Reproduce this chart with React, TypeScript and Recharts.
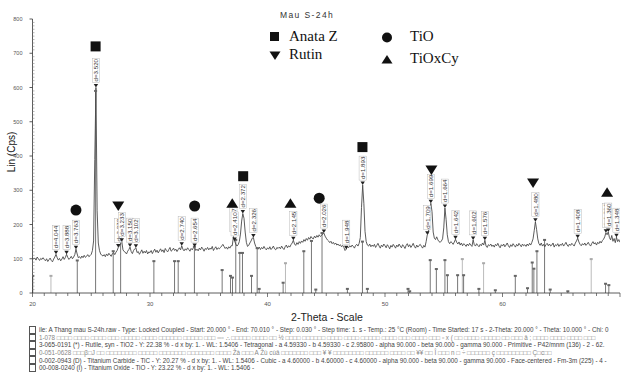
import { ComposedChart, Line, XAxis, YAxis, Scatter, ReferenceLine } from 'recharts'

// scan parameters (2-theta start / step of the resampled counts below)
const scanStart = 20
const scanStep = 0.1

// counts, one row per degree 20..69, last value is 70.0
const counts = [
  104, 99, 102, 96, 105, 100, 95, 101, 98, 103,
  98, 94, 100, 92, 97, 102, 95, 91, 99, 105,
  113, 103, 96, 101, 94, 99, 106, 98, 104, 113,
  104, 98, 102, 107, 100, 105, 112, 128, 114, 103,
  106, 101, 108, 103, 110, 104, 107, 112, 106, 109,
  113, 124, 152, 390, 600, 240, 146, 124, 114, 110,
  108, 112, 106, 114, 109, 116, 111, 107, 115, 118,
  112, 119, 124, 133, 138, 144, 150, 126, 121, 119,
  114, 122, 127, 134, 121, 115, 124, 129, 132, 118,
  121, 113, 119, 126, 116, 122, 117, 124, 114, 120,
  118, 124, 115, 122, 128, 119, 125, 117, 123, 129,
  121, 126, 118, 130, 124, 120, 127, 133, 122, 125,
  131, 124, 128, 121, 127, 132, 126, 138, 128, 123,
  129, 125, 132, 127, 122, 130, 126, 133, 134, 124,
  128, 123, 131, 126, 134, 129, 122, 130, 127, 133,
  126, 131, 128, 136, 124, 130, 135, 127, 132, 129,
  133, 137, 142, 136, 130, 134, 128, 135, 131, 138,
  138, 164, 152, 143, 137, 141, 150, 172, 210, 232,
  218, 178, 148, 136, 139, 146, 152, 160, 162, 146,
  136, 131, 128, 134, 127, 133, 129, 136, 130, 126,
  132, 128, 135, 127, 131, 137, 129, 126, 133, 130,
  134, 129, 137, 131, 127, 135, 140, 132, 138, 134,
  141, 146, 154, 143, 139, 147, 142, 150, 145, 152,
  148, 156, 151, 159, 154, 162, 157, 165, 160, 158,
  166, 161, 168, 163, 170, 165, 168, 172, 175, 166,
  160, 155, 152, 147, 151, 144, 148, 142, 146, 140,
  143, 138, 141, 135, 139, 133, 124, 128, 136, 132,
  138, 134, 140, 136, 131, 139, 142, 137, 145, 162,
  250, 315, 262, 180, 150, 140, 137, 143, 135, 140,
  136, 142, 133, 139, 145, 137, 131, 140, 135, 143,
  138, 132, 141, 136, 129, 139, 134, 142, 137, 131,
  140, 135, 143, 137, 132, 141, 136, 130, 139, 144,
  135, 141, 133, 138, 145, 136, 131, 140, 134, 139,
  142, 136, 131, 139, 134, 150, 170, 176, 215, 262,
  238, 178, 160, 156, 164, 155, 150, 148, 152, 158,
  190, 248, 215, 170, 150, 144, 150, 147, 142, 149,
  157, 148, 143, 149, 140, 146, 138, 144, 141, 136,
  143, 138, 145, 140, 136, 155, 141, 137, 144, 139,
  135, 142, 138, 146, 140, 154, 137, 133, 141, 138,
  143, 136, 140, 134, 142, 138, 145, 137, 132, 141,
  137, 143, 135, 140, 146, 138, 133, 141, 136, 144,
  139, 134, 142, 137, 145, 140, 135, 143, 138, 141,
  136, 143, 138, 145, 140, 148, 158, 182, 208, 186,
  158, 144, 139, 146, 137, 142, 135, 141, 145, 138,
  143, 137, 140, 146, 134, 141, 138, 144, 136, 142,
  139, 145, 137, 142, 148, 140, 136, 143, 139, 145,
  141, 137, 146, 152, 160, 149, 142, 138, 144, 140,
  146, 139, 143, 148, 141, 137, 145, 150, 143, 147,
  140, 148, 144, 151, 146, 153, 157, 164, 176, 170,
  178, 162, 155, 168, 151, 159, 147, 163, 150, 156,
  148,
]

// reference stick patterns (PDF cards)
const stickTheta = [20.02, 23.81, 25.37, 26.87, 27.5, 30.33, 32.09, 32.4, 33.78, 36.14, 36.85, 37.02, 37.3, 37.64, 37.87, 38.64, 39.12, 39.29, 41.33, 43.09, 43.74, 44.11, 44.64, 46.8, 48.08, 48.5, 51.96, 52.1, 53.85, 54.37, 55.1, 55.31, 56.18, 56.69, 57.99, 59.39, 61.09, 62.13, 62.53, 62.67, 62.93, 63.58, 64.06, 65.56, 68.77, 69.05]
const stickHeight = [50, 95, 590, 122, 151, 93, 93, 93, 135, 67, 50, 45, 155, 117, 117, 50, 131, 12, 30, 122, 152, 10, 175, 12, 150, 12, 12, 5, 96, 70, 96, 52, 52, 52, 12, 8, 50, 14, 89, 71, 122, 155, 10, 5, 27, 23]
const lightStickTheta = [21.57, 41.53, 56.58, 58.39, 67.55]
const lightStickHeight = [50, 87, 99, 87, 99]

// peak search labels
const peakTheta = [22.0, 22.9, 23.7, 25.4, 27.3, 27.6, 28.3, 28.8, 32.7, 33.8, 37.1, 37.2, 37.9, 38.8, 42.2, 44.8, 46.7, 48.1, 53.6, 53.9, 55.1, 56.0, 57.5, 58.5, 62.8, 66.4, 68.8, 69.0, 69.7]
const peakCounts = [113, 113, 128, 600, 133, 150, 134, 132, 138, 134, 164, 152, 232, 162, 154, 175, 128, 315, 170, 262, 248, 157, 155, 154, 208, 160, 176, 178, 163]
const peakD = ['d=4.044', 'd=3.888', 'd=3.763', 'd=3.520', 'd=3.272', 'd=3.233', 'd=3.150', 'd=3.102', 'd=2.740', 'd=2.654', 'd=2.427', 'd=2.410', 'd=2.372', 'd=2.326', 'd=2.145', 'd=2.026', 'd=1.948', 'd=1.893', 'd=1.709', 'd=1.699', 'd=1.664', 'd=1.642', 'd=1.602', 'd=1.576', 'd=1.480', 'd=1.408', 'd=1.364', 'd=1.360', 'd=1.348']

// phase markers
const anataseTheta = [25.37, 37.93, 48.08]
const anataseY = [720, 341, 426]
const rutileTheta = [27.3, 53.95, 62.6]
const rutileY = [254, 359, 321]
const tioTheta = [23.7, 33.8, 44.4]
const tioY = [242, 254, 277]
const tioxcyTheta = [37.0, 41.95, 68.9]
const tioxcyY = [262, 262, 294]

const xLabels = [20, 30, 40, 50, 60, 70]

const footerLines = [
  'ile: A Thang mau S-24h.raw - Type: Locked Coupled - Start: 20.000 ° - End: 70.010 ° - Step: 0.030 ° - Step time: 1. s - Temp.: 25 °C (Room) - Time Started: 17 s - 2-Theta: 20.000 ° - Theta: 10.000 ° - Chi: 0',
  '1-078 □□□□ □□□□ □□□□ □□□ □□□□□ □□□□ □□□□□□ □□□□□ □□□ ▫▫▫ ∴ □□□□□ □□□□ □□ ½ □□□□ □□□□□□ □□□□ □□□□ □□□□□ □□□□ □□□ □□□□ □□□ ▫ x ( □□ □□□□ □□□□□ □□ □□□ â ; □□□□ □□□□ □□□□ □□□',
  '3-065-0191 (*) - Rutile, syn - TiO2 - Y: 22.38 % - d x by: 1. - WL: 1.5406 - Tetragonal - a 4.59330 - b 4.59330 - c 2.95800 - alpha 90.000 - beta 90.000 - gamma 90.000 - Primitive - P42/mnm (136) - 2 - 62.',
  '0-051-0628 □□□β□J □□ □□□□□□□□ □□□□□ □□□□□□□ □□□□□□□ □□□□ Žà □□□ A Žù cùâ □□□□□□□ □□□ ¥ ¥ □□□□□□□□ □□□□□□ □□□□ □□ ¥¥ □□ Î □□□ n □ ÷ □□□□□□ ç □□□□□□□□□ Ç□c□□',
  '0-002-0943 (D) - Titanium Carbide - TiC - Y: 20.27 % - d x by: 1. - WL: 1.5406 - Cubic - a 4.60000 - b 4.60000 - c 4.60000 - alpha 90.000 - beta 90.000 - gamma 90.000 - Face-centered - Fm-3m (225) - 4 -',
  '00-008-0240 (I) - Titanium Oxide - TiO - Y: 23.22 % - d x by: 1. - WL: 1.5406 -',
]

const scan = counts.map((c, i) => ({ theta: +(scanStart + i * scanStep).toFixed(2), counts: c }))
const toPoints = (t: number[], y: number[]) => t.map((theta, i) => ({ theta, counts: y[i] }))
const peaks = peakTheta.map((theta, i) => ({ theta, counts: peakCounts[i], d: peakD[i] }))

const yTicks = Array.from({ length: 81 }, (_, i) => i * 10)
const xTicks = Array.from({ length: 51 }, (_, i) => 20 + i)

const YTick = ({ x, y, payload }: any) => {
  const v = payload.value
  if (v % 100 !== 0) return <line x1={x} x2={x + 2} y1={y} y2={y} stroke="#888" strokeWidth={0.6} />
  return (
    <g>
      <line x1={x - 3} x2={x} y1={y} y2={y} stroke="#333" strokeWidth={0.8} />
      <text x={x - 10} y={y + 2} textAnchor="end" fontSize={5.5} fill="#555" fontFamily="Arial, Liberation Sans">{v}</text>
    </g>
  )
}

const XTick = ({ x, y, payload }: any) => {
  const v = payload.value
  const major = xLabels.includes(v)
  return (
    <g>
      <line x1={x} x2={x} y1={y} y2={y + (major ? 4 : 3)} stroke="#444" strokeWidth={0.7} />
      {major && v < 70 && (
        <text x={x} y={y + 13} textAnchor="middle" fontSize={6} fill="#555" fontFamily="Arial, Liberation Sans">{v}</text>
      )}
    </g>
  )
}

const Square = ({ cx, cy }: any) => <rect x={cx - 5} y={cy - 5} width={10} height={10} fill="#111" />
const Disc = ({ cx, cy }: any) => <circle cx={cx} cy={cy} r={5.5} fill="#111" />
const Up = ({ cx, cy }: any) => <path d={`M${cx},${cy - 5} L${cx + 6},${cy + 4.5} L${cx - 6},${cy + 4.5}Z`} fill="#111" />
const Down = ({ cx, cy }: any) => <path d={`M${cx - 6},${cy - 4.5} L${cx + 6},${cy - 4.5} L${cx},${cy + 5}Z`} fill="#111" />
const Tick = ({ cx, cy }: any) => <rect x={cx - 1.5} y={cy - 1} width={3} height={2} fill="#666" />
const LightTick = ({ cx, cy }: any) => <rect x={cx - 1.5} y={cy - 1} width={3} height={2} fill="#aaa" />

const PeakTag = ({ cx, cy, payload }: any) => (
  <g>
    <path d={`M${cx - 2.2},${cy - 3.5} L${cx + 2.2},${cy - 3.5} L${cx},${cy}Z`} fill="#222" />
    <g transform={`translate(${cx},${cy - 5}) rotate(-90)`}>
      <rect x={0} y={-3.6} width={24} height={7.2} fill="#fff" stroke="#aaa" strokeWidth={0.4} />
      <text x={1} y={2.4} fontSize={6.2} fill="#333" fontFamily="Arial, Liberation Sans">{payload.d}</text>
    </g>
  </g>
)

const legendText = { position: 'absolute' as const, fontFamily: '"Liberation Serif", "Times New Roman", serif', fontSize: 15, lineHeight: '15px', color: '#111' }

export default function App() {
  return (
    <div style={{ position: 'fixed', left: 0, top: 0, width: 625, height: 373, background: '#fff', overflow: 'hidden' }}>
      <ComposedChart width={625} height={373} data={scan} margin={{ top: 19, right: 5, bottom: 0, left: 0 }}>
        <XAxis
          dataKey="theta"
          type="number"
          domain={[20, 70]}
          ticks={xTicks}
          interval={0}
          height={80}
          tickSize={0}
          tickMargin={0}
          tick={<XTick />}
          axisLine={{ stroke: '#333', strokeWidth: 0.8 }}
          allowDataOverflow
        />
        <YAxis
          type="number"
          domain={[0, 800]}
          ticks={yTicks}
          interval={0}
          width={32.5}
          tickSize={0}
          tickMargin={0}
          tick={<YTick />}
          axisLine={{ stroke: '#333', strokeWidth: 0.8 }}
          allowDataOverflow
        />
        {stickTheta.map((t, i) => (
          <ReferenceLine key={'s' + i} segment={[{ x: t, y: 0 }, { x: t, y: stickHeight[i] }]} stroke="#777" strokeWidth={1} />
        ))}
        {lightStickTheta.map((t, i) => (
          <ReferenceLine key={'l' + i} segment={[{ x: t, y: 0 }, { x: t, y: lightStickHeight[i] }]} stroke="#bbb" strokeWidth={1} />
        ))}
        <Scatter data={toPoints(stickTheta, stickHeight)} dataKey="counts" shape={<Tick />} isAnimationActive={false} />
        <Scatter data={toPoints(lightStickTheta, lightStickHeight)} dataKey="counts" shape={<LightTick />} isAnimationActive={false} />
        <Line dataKey="counts" type="linear" stroke="#4a4a4a" strokeWidth={0.9} dot={false} isAnimationActive={false} />
        <Scatter data={peaks} dataKey="counts" shape={<PeakTag />} isAnimationActive={false} />
        <Scatter data={toPoints(anataseTheta, anataseY)} dataKey="counts" shape={<Square />} isAnimationActive={false} />
        <Scatter data={toPoints(rutileTheta, rutileY)} dataKey="counts" shape={<Down />} isAnimationActive={false} />
        <Scatter data={toPoints(tioTheta, tioY)} dataKey="counts" shape={<Disc />} isAnimationActive={false} />
        <Scatter data={toPoints(tioxcyTheta, tioxcyY)} dataKey="counts" shape={<Up />} isAnimationActive={false} />
      </ComposedChart>

      <div style={{ position: 'absolute', left: 280, top: 10, fontFamily: 'Arial, "Liberation Sans"', fontSize: 8.5, letterSpacing: 1.4, color: '#333' }}>Mau S-24h</div>
      <svg style={{ position: 'absolute', left: 0, top: 0 }} width={625} height={80}>
        <rect x={270} y={32} width={9} height={9} fill="#111" />
        <path d="M269.5,51.5 L280.5,51.5 L275,60Z" fill="#111" />
        <circle cx={387} cy={37.5} r={5} fill="#111" />
        <path d="M387,55 L392.5,63.5 L381.5,63.5Z" fill="#111" />
      </svg>
      <div style={{ ...legendText, left: 289, top: 29 }}>Anata Z</div>
      <div style={{ ...legendText, left: 289, top: 47 }}>Rutin</div>
      <div style={{ ...legendText, left: 410, top: 29 }}>TiO</div>
      <div style={{ ...legendText, left: 410, top: 51 }}>TiOxCy</div>

      <div style={{ position: 'absolute', left: 4, top: 152, transform: 'translate(0,-50%) rotate(-90deg)', transformOrigin: 'center', width: 14, display: 'flex', justifyContent: 'center' }}>
        <span style={{ whiteSpace: 'nowrap', fontFamily: 'Arial, "Liberation Sans"', fontSize: 10, color: '#111' }}>Lin (Cps)</span>
      </div>
      <div style={{ position: 'absolute', left: 267, top: 311, width: 120, textAlign: 'center', fontFamily: 'Arial, "Liberation Sans"', fontSize: 10.5, lineHeight: '12px', color: '#222' }}>2-Theta - Scale</div>

      {footerLines.map((t, i) => (
        <div key={i} style={{ position: 'absolute', left: 29, top: 326 + i * 7.6, height: 7.6, display: 'flex', alignItems: 'center', whiteSpace: 'nowrap' }}>
          <span style={{ display: 'inline-block', width: 5, height: 5.5, border: '0.6px solid #555', marginRight: 3 }} />
          <span style={{ fontFamily: 'Arial, "Liberation Sans"', fontSize: 6.3, color: i === 1 || i === 3 ? '#888' : '#444' }}>{t}</span>
        </div>
      ))}
    </div>
  )
}
